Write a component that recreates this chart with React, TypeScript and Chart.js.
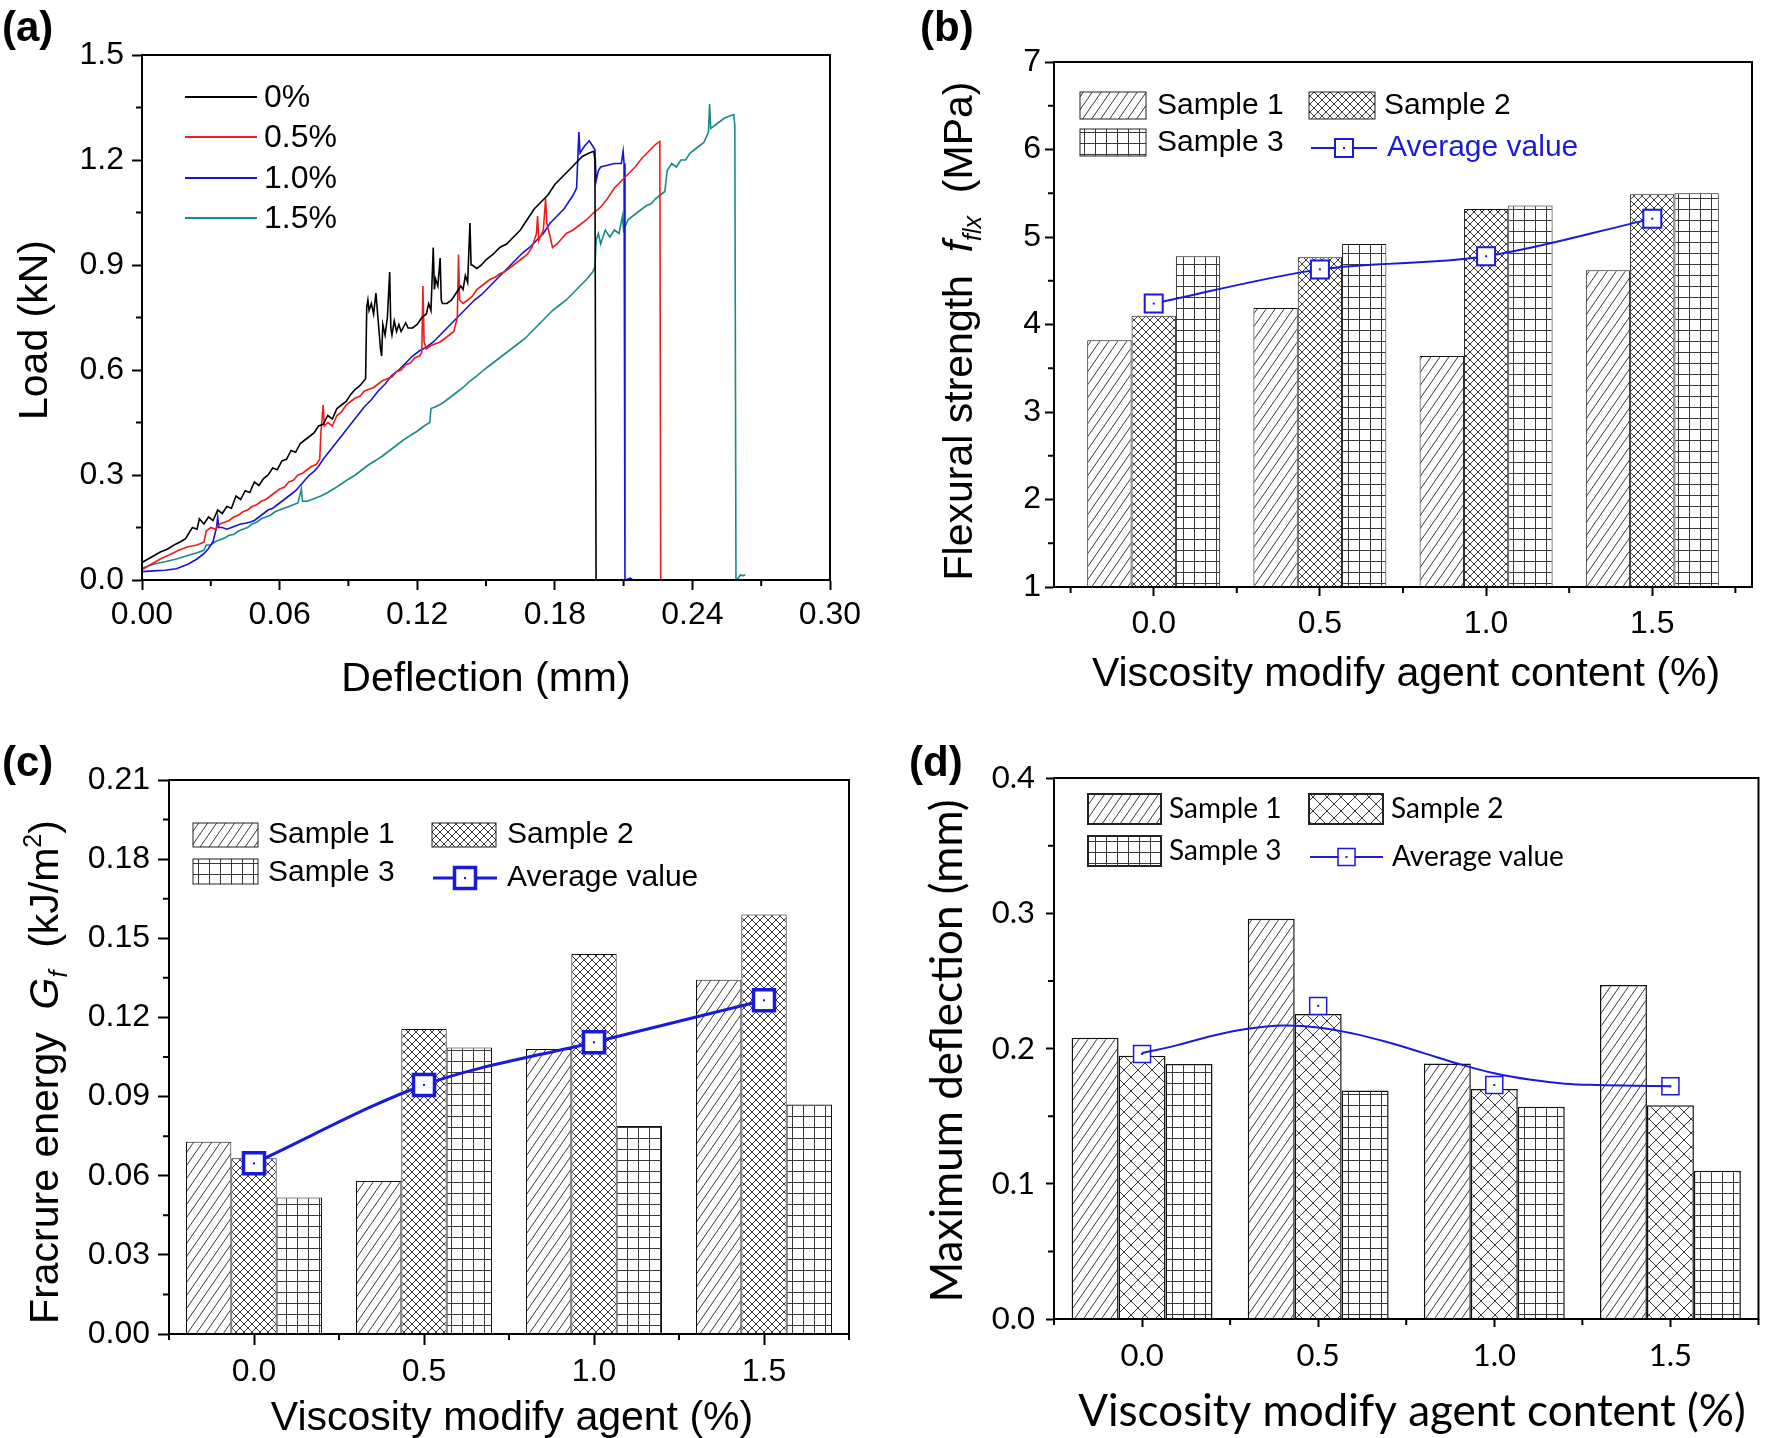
import React, { useEffect, useRef } from 'react';
import { Chart, registerables } from 'chart.js';
Chart.register(...registerables);

type Pt = [number, number];

const SANS = '"Liberation Sans", Arial, sans-serif';
const LATO = 'Lato, "Liberation Sans", sans-serif';
const BLUE = '#1a1ad8';

// ---------------- Panel (a): load-deflection curves ----------------
const aLegendLabels = ['0%', '0.5%', '1.0%', '1.5%'];
const aColors = ['#000000', '#f01c1c', '#1414d8', '#1a8a86'];
const aXTicks = [0, 0.06, 0.12, 0.18, 0.24, 0.3];
const aYTicks = [0, 0.3, 0.6, 0.9, 1.2, 1.5];
const aXMinor = [0.03, 0.09, 0.15, 0.21, 0.27];
const aYMinor = [0.15, 0.45, 0.75, 1.05, 1.35];

const aLoad0: Pt[] = [[0,0.05],[0.004,0.065],[0.008,0.08],[0.011,0.088],[0.014,0.1],[0.017,0.11],[0.019,0.118],[0.021,0.14],[0.022,0.15],[0.024,0.145],[0.025,0.175],[0.027,0.16],[0.029,0.18],[0.031,0.17],[0.033,0.2],[0.035,0.19],[0.037,0.21],[0.039,0.205],[0.041,0.24],[0.043,0.23],[0.045,0.255],[0.047,0.25],[0.049,0.28],[0.051,0.27],[0.053,0.29],[0.055,0.3],[0.057,0.32],[0.059,0.315],[0.061,0.34],[0.063,0.345],[0.065,0.37],[0.067,0.365],[0.069,0.39],[0.071,0.4],[0.073,0.41],[0.075,0.42],[0.077,0.44],[0.079,0.445],[0.081,0.47],[0.083,0.46],[0.085,0.49],[0.087,0.5],[0.089,0.51],[0.091,0.53],[0.093,0.545],[0.095,0.555],[0.0975,0.575],[0.098,0.78],[0.0985,0.8],[0.099,0.77],[0.1,0.79],[0.101,0.76],[0.102,0.82],[0.103,0.74],[0.104,0.66],[0.1045,0.64],[0.105,0.73],[0.106,0.7],[0.107,0.75],[0.108,0.88],[0.1085,0.72],[0.109,0.7],[0.11,0.74],[0.111,0.71],[0.112,0.73],[0.113,0.71],[0.115,0.735],[0.116,0.72],[0.118,0.72],[0.12,0.73],[0.122,0.75],[0.124,0.76],[0.125,0.79],[0.126,0.77],[0.127,0.95],[0.1275,0.83],[0.128,0.86],[0.129,0.84],[0.13,0.92],[0.1305,0.8],[0.131,0.79],[0.133,0.79],[0.135,0.8],[0.137,0.82],[0.139,0.84],[0.14,0.83],[0.141,0.87],[0.142,0.85],[0.143,1.02],[0.1435,0.9],[0.144,0.9],[0.146,0.89],[0.148,0.9],[0.15,0.915],[0.153,0.93],[0.156,0.95],[0.159,0.96],[0.162,0.98],[0.165,1.0],[0.168,1.03],[0.171,1.06],[0.174,1.08],[0.177,1.1],[0.18,1.13],[0.183,1.15],[0.186,1.17],[0.189,1.19],[0.192,1.21],[0.195,1.22],[0.197,1.225],[0.1975,1.2],[0.198,0],[0.2,0]];

const aLoad05: Pt[] = [[0,0.03],[0.004,0.045],[0.008,0.06],[0.012,0.072],[0.016,0.085],[0.02,0.095],[0.024,0.1],[0.027,0.108],[0.028,0.14],[0.03,0.15],[0.032,0.145],[0.034,0.16],[0.036,0.165],[0.038,0.17],[0.04,0.18],[0.042,0.185],[0.044,0.195],[0.046,0.2],[0.048,0.21],[0.05,0.215],[0.052,0.225],[0.054,0.23],[0.056,0.24],[0.058,0.25],[0.06,0.26],[0.062,0.265],[0.064,0.28],[0.066,0.285],[0.068,0.3],[0.07,0.305],[0.072,0.315],[0.074,0.325],[0.076,0.33],[0.0775,0.345],[0.078,0.42],[0.079,0.5],[0.0795,0.44],[0.081,0.45],[0.083,0.44],[0.085,0.47],[0.087,0.48],[0.089,0.5],[0.091,0.51],[0.093,0.52],[0.095,0.525],[0.097,0.54],[0.099,0.545],[0.101,0.55],[0.103,0.56],[0.105,0.57],[0.107,0.575],[0.109,0.58],[0.111,0.595],[0.113,0.6],[0.115,0.615],[0.117,0.62],[0.119,0.635],[0.121,0.64],[0.122,0.65],[0.1225,0.84],[0.123,0.68],[0.124,0.66],[0.126,0.67],[0.128,0.675],[0.13,0.68],[0.132,0.69],[0.134,0.7],[0.136,0.71],[0.1375,0.75],[0.138,0.93],[0.1385,0.8],[0.14,0.79],[0.142,0.8],[0.144,0.81],[0.146,0.83],[0.148,0.84],[0.15,0.85],[0.152,0.86],[0.154,0.865],[0.156,0.875],[0.158,0.88],[0.16,0.89],[0.162,0.9],[0.164,0.91],[0.166,0.92],[0.168,0.93],[0.17,0.95],[0.172,0.99],[0.1725,1.04],[0.173,0.97],[0.175,1.0],[0.176,1.09],[0.1765,1.02],[0.178,0.98],[0.179,0.95],[0.181,0.96],[0.183,0.975],[0.185,0.99],[0.188,1.0],[0.191,1.015],[0.194,1.03],[0.197,1.05],[0.2,1.065],[0.203,1.09],[0.206,1.12],[0.209,1.14],[0.212,1.16],[0.215,1.18],[0.218,1.205],[0.221,1.225],[0.224,1.245],[0.2258,1.253],[0.2262,0],[0.23,0]];

const aLoad10: Pt[] = [[0,0.024],[0.005,0.026],[0.01,0.028],[0.015,0.032],[0.02,0.045],[0.024,0.06],[0.027,0.075],[0.029,0.09],[0.031,0.11],[0.0325,0.15],[0.033,0.18],[0.0335,0.15],[0.035,0.15],[0.037,0.145],[0.039,0.15],[0.041,0.155],[0.043,0.16],[0.045,0.162],[0.047,0.165],[0.049,0.17],[0.051,0.18],[0.053,0.19],[0.055,0.2],[0.057,0.205],[0.059,0.215],[0.061,0.225],[0.063,0.235],[0.065,0.245],[0.067,0.255],[0.069,0.27],[0.071,0.285],[0.073,0.3],[0.075,0.31],[0.077,0.325],[0.079,0.345],[0.082,0.37],[0.085,0.395],[0.088,0.42],[0.091,0.445],[0.094,0.47],[0.097,0.495],[0.1,0.515],[0.103,0.54],[0.106,0.56],[0.109,0.585],[0.112,0.6],[0.115,0.62],[0.118,0.64],[0.121,0.655],[0.124,0.665],[0.127,0.68],[0.13,0.7],[0.133,0.72],[0.136,0.74],[0.139,0.76],[0.142,0.78],[0.145,0.8],[0.148,0.815],[0.151,0.835],[0.154,0.855],[0.157,0.875],[0.16,0.895],[0.163,0.915],[0.166,0.935],[0.169,0.95],[0.172,0.97],[0.175,0.99],[0.178,1.02],[0.181,1.04],[0.184,1.06],[0.186,1.08],[0.188,1.1],[0.1895,1.12],[0.19,1.2],[0.1905,1.28],[0.191,1.22],[0.193,1.24],[0.195,1.255],[0.196,1.245],[0.1975,1.23],[0.198,1.14],[0.199,1.17],[0.2,1.18],[0.203,1.185],[0.206,1.19],[0.209,1.19],[0.2098,1.225],[0.2102,1.19],[0.2106,0],[0.213,0.005],[0.214,0]];

const aLoad15: Pt[] = [[0,0.034],[0.005,0.045],[0.01,0.052],[0.015,0.06],[0.02,0.07],[0.024,0.078],[0.027,0.085],[0.028,0.1],[0.03,0.1],[0.032,0.11],[0.034,0.115],[0.036,0.12],[0.038,0.128],[0.04,0.13],[0.042,0.14],[0.044,0.145],[0.046,0.15],[0.048,0.16],[0.05,0.165],[0.052,0.175],[0.054,0.18],[0.056,0.185],[0.058,0.195],[0.06,0.2],[0.062,0.205],[0.064,0.21],[0.066,0.215],[0.068,0.22],[0.0695,0.26],[0.07,0.225],[0.072,0.225],[0.075,0.232],[0.078,0.24],[0.081,0.25],[0.084,0.262],[0.087,0.275],[0.09,0.288],[0.093,0.3],[0.096,0.315],[0.099,0.33],[0.102,0.342],[0.105,0.355],[0.108,0.37],[0.111,0.385],[0.114,0.4],[0.117,0.413],[0.12,0.425],[0.123,0.44],[0.1255,0.45],[0.126,0.49],[0.128,0.495],[0.131,0.505],[0.134,0.52],[0.137,0.535],[0.14,0.55],[0.143,0.568],[0.146,0.583],[0.149,0.6],[0.152,0.615],[0.155,0.63],[0.158,0.645],[0.161,0.66],[0.164,0.675],[0.167,0.69],[0.17,0.71],[0.173,0.73],[0.176,0.75],[0.179,0.77],[0.182,0.785],[0.185,0.8],[0.188,0.82],[0.191,0.84],[0.194,0.86],[0.1965,0.88],[0.1975,0.895],[0.198,0.97],[0.199,0.99],[0.2,0.96],[0.202,1.0],[0.204,0.98],[0.206,1.0],[0.208,0.99],[0.2095,1.04],[0.21,1.0],[0.212,1.03],[0.214,1.04],[0.216,1.05],[0.218,1.06],[0.22,1.07],[0.222,1.075],[0.224,1.09],[0.226,1.1],[0.228,1.11],[0.229,1.17],[0.231,1.19],[0.233,1.18],[0.235,1.2],[0.237,1.2],[0.239,1.22],[0.241,1.23],[0.243,1.24],[0.245,1.25],[0.247,1.28],[0.2475,1.36],[0.248,1.29],[0.25,1.3],[0.252,1.31],[0.254,1.32],[0.256,1.325],[0.258,1.33],[0.2585,1.3],[0.259,0],[0.26,0.005],[0.261,0.015],[0.262,0.012],[0.263,0.015]];

const aSeries = [aLoad0, aLoad05, aLoad10, aLoad15];

// ---------------- Bar panels (b), (c), (d) ----------------
const vmaContent = [0, 0.5, 1.0, 1.5];
const barXTicks = [0, 0.5, 1.0, 1.5];
const sampleLabels = ['Sample 1', 'Sample 2', 'Sample 3'];
const avgLabel = 'Average value';

// (b) flexural strength (MPa)
const bSample1 = [3.82, 4.19, 3.64, 4.62];
const bSample2 = [4.10, 4.77, 5.32, 5.49];
const bSample3 = [4.78, 4.92, 5.36, 5.50];
const bAverage = [4.24, 4.63, 4.78, 5.21];
const bYTicks = [1, 2, 3, 4, 5, 6, 7];
const bYMinor = [1.5, 2.5, 3.5, 4.5, 5.5, 6.5];
const bXMinor = [-0.25, 0.25, 0.75, 1.25, 1.75];

// (c) fracture energy (kJ/m2)
const cSample1 = [0.0729, 0.058, 0.108, 0.1343];
const cSample2 = [0.0666, 0.1156, 0.144, 0.159];
const cSample3 = [0.0517, 0.1086, 0.0788, 0.087];
const cAverage = [0.0647, 0.0944, 0.1106, 0.1265];
const cYTicks = [0, 0.03, 0.06, 0.09, 0.12, 0.15, 0.18, 0.21];
const cYMinor = [0.015, 0.045, 0.075, 0.105, 0.135, 0.165, 0.195];
const cXMinor = [-0.25, 0.25, 0.75, 1.25, 1.75];

// (d) maximum deflection (mm)
const dSample1 = [0.208, 0.296, 0.189, 0.247];
const dSample2 = [0.1947, 0.2256, 0.170, 0.158];
const dSample3 = [0.1886, 0.169, 0.157, 0.1096];
const dAverage = [0.196, 0.2315, 0.173, 0.172];
const dAvgCurveX = [0, 0.1, 0.2, 0.3, 0.4, 0.5, 0.6, 0.7, 0.8, 0.9, 1.0, 1.1, 1.2, 1.3, 1.4, 1.5];
const dAvgCurveY = [0.1966, 0.2025, 0.2095, 0.2146, 0.217, 0.2156, 0.211, 0.2044, 0.1966, 0.1885, 0.1817, 0.177, 0.174, 0.173, 0.1725, 0.172];
const dYTicks = [0, 0.1, 0.2, 0.3, 0.4];
const dYMinor = [0.05, 0.15, 0.25, 0.35];
const dXMinor = [-0.25, 0.25, 0.75, 1.25, 1.75];

// ---------------- helpers ----------------
function makePattern(kind: string, size: number): any {
  const c = document.createElement('canvas');
  const w = size;
  const h = kind === 'diag' ? Math.round(size * 1.4) : size;
  c.width = w; c.height = h;
  const g = c.getContext('2d')!;
  g.fillStyle = '#ffffff';
  g.fillRect(0, 0, w, h);
  g.strokeStyle = '#383838';
  g.lineWidth = 1;
  g.beginPath();
  if (kind === 'diag') {
    for (const o of [-w, 0, w]) { g.moveTo(-w + o, 2 * h); g.lineTo(2 * w + o, -h); }
  } else if (kind === 'cross') {
    for (const o of [-w, 0, w]) {
      g.moveTo(-w + o, -h); g.lineTo(2 * w + o, 2 * h);
      g.moveTo(2 * w + o, -h); g.lineTo(-w + o, 2 * h);
    }
  } else {
    g.moveTo(0.5, 0); g.lineTo(0.5, h);
    g.moveTo(0, 0.5); g.lineTo(w, 0.5);
  }
  g.stroke();
  return g.createPattern(c, 'repeat');
}

type Seg = { t: string; font: string; dy?: number; color?: string };

function drawRich(ctx: CanvasRenderingContext2D, segs: Seg[], cx: number, cy: number, rotate: boolean, baseSize: number) {
  ctx.save();
  ctx.translate(cx, cy);
  if (rotate) ctx.rotate(-Math.PI / 2);
  let total = 0;
  for (const s of segs) { ctx.font = s.font; total += ctx.measureText(s.t).width; }
  let x = -total / 2;
  ctx.textAlign = 'left';
  ctx.textBaseline = 'alphabetic';
  const base = baseSize * 0.36;
  for (const s of segs) {
    ctx.font = s.font;
    ctx.fillStyle = s.color || '#000';
    ctx.fillText(s.t, x, base + (s.dy || 0));
    x += ctx.measureText(s.t).width;
  }
  ctx.restore();
}

function drawMarker(ctx: CanvasRenderingContext2D, x: number, y: number, side: number, bw: number) {
  ctx.save();
  ctx.fillStyle = '#fff';
  ctx.fillRect(x - side / 2, y - side / 2, side, side);
  ctx.strokeStyle = BLUE;
  ctx.lineWidth = bw;
  ctx.strokeRect(x - side / 2, y - side / 2, side, side);
  ctx.fillStyle = BLUE;
  ctx.fillRect(x - 1, y - 1, 2, 2);
  ctx.restore();
}

interface Deco {
  xMinor: number[]; yMinor: number[]; minorLen: number;
  label: string; labelX: number; labelY: number;
  yTitle: Seg[]; yTitleX: number; yTitleY: number; yTitleSize: number;
  xTitle: Seg[]; xTitleX: number; xTitleY: number; xTitleSize: number;
  legend: (ctx: CanvasRenderingContext2D) => void;
  dotsDataset?: number;
}

function decoPlugin(d: Deco) {
  return {
    id: 'deco',
    afterDatasetsDraw(chart: any) {
      if (d.dotsDataset === undefined) return;
      const ctx = chart.ctx;
      const meta = chart.getDatasetMeta(d.dotsDataset);
      ctx.save();
      ctx.fillStyle = BLUE;
      meta.data.forEach((p: any) => ctx.fillRect(p.x - 1, p.y - 1, 2, 2));
      ctx.restore();
    },
    afterDraw(chart: any) {
      const ctx: CanvasRenderingContext2D = chart.ctx;
      const ca = chart.chartArea;
      const xs = chart.scales.x;
      const ys = chart.scales.y;
      ctx.save();
      ctx.strokeStyle = '#000';
      ctx.lineWidth = 2;
      ctx.strokeRect(ca.left, ca.top, ca.right - ca.left, ca.bottom - ca.top);
      ctx.beginPath();
      for (const v of d.xMinor) {
        const px = xs.getPixelForValue(v);
        ctx.moveTo(px, ca.bottom); ctx.lineTo(px, ca.bottom + d.minorLen);
      }
      for (const v of d.yMinor) {
        const py = ys.getPixelForValue(v);
        ctx.moveTo(ca.left, py); ctx.lineTo(ca.left - d.minorLen, py);
      }
      ctx.stroke();
      ctx.fillStyle = '#000';
      ctx.font = `bold 42px ${SANS}`;
      ctx.textAlign = 'left';
      ctx.textBaseline = 'top';
      ctx.fillText(d.label, d.labelX, d.labelY);
      drawRich(ctx, d.yTitle, d.yTitleX, d.yTitleY, true, d.yTitleSize);
      drawRich(ctx, d.xTitle, d.xTitleX, d.xTitleY, false, d.xTitleSize);
      d.legend(ctx);
      ctx.restore();
    },
  };
}

interface AxisSpec {
  min: number; max: number; ticks: number[]; dec: number; fit: number;
  tickLen: number; pad: number; family: string; size: number; horizontal: boolean;
}

function axis(a: AxisSpec) {
  return {
    type: 'linear',
    min: a.min,
    max: a.max,
    offset: false,
    afterBuildTicks: (s: any) => { s.ticks = a.ticks.map((v) => ({ value: v })); },
    afterFit: (s: any) => { if (a.horizontal) s.height = a.fit; else s.width = a.fit; },
    grid: { display: true, drawOnChartArea: false, drawTicks: true, tickLength: a.tickLen, tickWidth: 2, tickColor: '#000', offset: false },
    border: { display: true, color: '#000', width: 2 },
    ticks: {
      font: { family: a.family, size: a.size },
      color: '#000',
      padding: a.pad,
      maxRotation: 0,
      minRotation: 0,
      autoSkip: false,
      callback: (v: any) => Number(v).toFixed(a.dec),
    },
  };
}

function baseOptions(padTop: number, padRight: number, x: any, y: any) {
  return {
    responsive: false,
    animation: false,
    events: [],
    layout: { padding: { left: 0, top: padTop, right: padRight, bottom: 0 } },
    plugins: { legend: { display: false }, tooltip: { enabled: false } },
    scales: { x, y },
  };
}

// ---------------- panel (a) config ----------------
function configA() {
  const legend = (ctx: CanvasRenderingContext2D) => {
    const ys = [97, 137, 178, 218];
    ctx.font = `32px ${SANS}`;
    ctx.textBaseline = 'middle';
    ctx.textAlign = 'left';
    aLegendLabels.forEach((lab, i) => {
      ctx.strokeStyle = aColors[i];
      ctx.lineWidth = 2;
      ctx.beginPath();
      ctx.moveTo(185, ys[i]); ctx.lineTo(257, ys[i]);
      ctx.stroke();
      ctx.fillStyle = '#000';
      ctx.fillText(lab, 264, ys[i] + 1);
    });
  };
  const deco = decoPlugin({
    xMinor: aXMinor, yMinor: aYMinor, minorLen: 6,
    label: '(a)', labelX: 2, labelY: 8,
    yTitle: [{ t: 'Load (kN)', font: `41px ${SANS}` }], yTitleX: 32, yTitleY: 330, yTitleSize: 41,
    xTitle: [{ t: 'Deflection (mm)', font: `41px ${SANS}` }], xTitleX: 486, xTitleY: 676, xTitleSize: 41,
    legend,
  });
  return {
    type: 'line',
    data: {
      datasets: aSeries.map((s, i) => ({
        label: aLegendLabels[i],
        data: s.map(([x, y]) => ({ x, y })),
        borderColor: aColors[i],
        borderWidth: 1.6,
        pointRadius: 0,
        tension: 0,
        fill: false,
      })),
    },
    options: baseOptions(55, 56,
      axis({ min: 0, max: 0.3, ticks: aXTicks, dec: 2, fit: 140, tickLen: 10, pad: 6, family: SANS, size: 32, horizontal: true }),
      axis({ min: 0, max: 1.5, ticks: aYTicks, dec: 1, fit: 142, tickLen: 10, pad: 8, family: SANS, size: 32, horizontal: false })),
    plugins: [deco],
  };
}

// ---------------- bar panel config ----------------
interface BarSpec {
  s: number[][]; avg: number[]; curveX?: number[]; curveY?: number[];
  xMin: number; xMax: number; yMin: number; yMax: number; yTicks: number[]; yDec: number;
  xMinor: number[]; yMinor: number[];
  padTop: number; padRight: number; xFit: number; yFit: number;
  tickLen: number; xPad: number; yPad: number; family: string; tickSize: number;
  diag: number; cross: number; grid: number; barBW: number;
  lineW: number; markerSide: number; markerBW: number;
  label: string; labelX: number; labelY: number;
  yTitle: Seg[]; yTitleX: number; yTitleY: number; yTitleSize: number;
  xTitle: string; xTitleFont: string; xTitleX: number; xTitleY: number; xTitleSize: number;
  lg: { boxes: number[][]; texts: number[][]; avgLine: number[]; font: string; avgColor: string; boxBW: number };
}

function configBar(p: BarSpec) {
  const pats = [makePattern('diag', p.diag), makePattern('cross', p.cross), makePattern('grid', p.grid)];
  const xy = (ys: number[]) => vmaContent.map((x, i) => ({ x, y: ys[i] }));
  const datasets: any[] = [];
  const markerR = p.markerSide / (2 * Math.SQRT1_2);
  if (p.curveX && p.curveY) {
    datasets.push({
      type: 'line', label: 'avgCurve',
      data: p.curveX.map((x, i) => ({ x, y: p.curveY![i] })),
      borderColor: BLUE, borderWidth: p.lineW, pointRadius: 0, tension: 0.4, order: 0,
    });
  }
  datasets.push({
    type: 'line', label: avgLabel, data: xy(p.avg),
    showLine: !(p.curveX),
    borderColor: BLUE, borderWidth: p.lineW,
    cubicInterpolationMode: 'monotone',
    pointStyle: 'rect', pointRadius: markerR, pointBackgroundColor: '#fff',
    pointBorderColor: BLUE, pointBorderWidth: p.markerBW, order: 0,
  });
  const dotsIdx = datasets.length - 1;
  p.s.forEach((vals, i) => {
    datasets.push({
      type: 'bar', label: sampleLabels[i], data: xy(vals),
      backgroundColor: pats[i], borderColor: '#111', borderWidth: p.barBW,
      categoryPercentage: 0.8, barPercentage: 1.0, order: 1,
    });
  });

  const legend = (ctx: CanvasRenderingContext2D) => {
    ctx.font = p.lg.font;
    ctx.textBaseline = 'middle';
    ctx.textAlign = 'left';
    p.lg.boxes.forEach((b, i) => {
      ctx.fillStyle = pats[i];
      ctx.fillRect(b[0], b[1], b[2], b[3]);
      ctx.strokeStyle = '#222';
      ctx.lineWidth = p.lg.boxBW;
      ctx.strokeRect(b[0], b[1], b[2], b[3]);
      ctx.fillStyle = '#000';
      ctx.fillText(sampleLabels[i], p.lg.texts[i][0], p.lg.texts[i][1]);
    });
    const [x1, x2, ly] = p.lg.avgLine;
    ctx.strokeStyle = BLUE;
    ctx.lineWidth = p.lineW;
    ctx.beginPath(); ctx.moveTo(x1, ly); ctx.lineTo(x2, ly); ctx.stroke();
    drawMarker(ctx, (x1 + x2) / 2, ly, p.markerSide, p.markerBW);
    ctx.fillStyle = p.lg.avgColor;
    ctx.font = p.lg.font;
    ctx.fillText(avgLabel, p.lg.texts[3][0], p.lg.texts[3][1]);
  };

  const deco = decoPlugin({
    xMinor: p.xMinor, yMinor: p.yMinor, minorLen: 6,
    label: p.label, labelX: p.labelX, labelY: p.labelY,
    yTitle: p.yTitle, yTitleX: p.yTitleX, yTitleY: p.yTitleY, yTitleSize: p.yTitleSize,
    xTitle: [{ t: p.xTitle, font: p.xTitleFont }], xTitleX: p.xTitleX, xTitleY: p.xTitleY, xTitleSize: p.xTitleSize,
    legend, dotsDataset: dotsIdx,
  });

  return {
    type: 'bar',
    data: { datasets },
    options: baseOptions(p.padTop, p.padRight,
      axis({ min: p.xMin, max: p.xMax, ticks: barXTicks, dec: 1, fit: p.xFit, tickLen: p.tickLen, pad: p.xPad, family: p.family, size: p.tickSize, horizontal: true }),
      axis({ min: p.yMin, max: p.yMax, ticks: p.yTicks, dec: p.yDec, fit: p.yFit, tickLen: p.tickLen, pad: p.yPad, family: p.family, size: p.tickSize, horizontal: false })),
    plugins: [deco],
  };
}

function configB() {
  return configBar({
    s: [bSample1, bSample2, bSample3], avg: bAverage,
    xMin: -0.3, xMax: 1.8, yMin: 1, yMax: 7, yTicks: bYTicks, yDec: 0,
    xMinor: bXMinor, yMinor: bYMinor,
    padTop: 62, padRight: 20, xFit: 133, yFit: 168,
    tickLen: 9, xPad: 9, yPad: 4, family: SANS, tickSize: 32,
    diag: 9, cross: 8, grid: 11, barBW: 1,
    lineW: 2, markerSide: 18, markerBW: 2,
    label: '(b)', labelX: 34, labelY: 8,
    yTitle: [
      { t: 'Flexural strength  ', font: `41px ${SANS}` },
      { t: 'f', font: `italic 41px ${SANS}` },
      { t: 'flx', font: `italic 25px ${SANS}`, dy: 9 },
      { t: '  (MPa)', font: `41px ${SANS}` },
    ],
    yTitleX: 71, yTitleY: 331, yTitleSize: 41,
    xTitle: 'Viscosity modify agent content (%)', xTitleFont: `41px ${SANS}`, xTitleX: 520, xTitleY: 671, xTitleSize: 41,
    lg: {
      boxes: [[194, 92, 66, 27], [423, 92, 66, 27], [194, 129, 66, 27]],
      texts: [[271, 106], [498, 106], [271, 143], [501, 148]],
      avgLine: [425, 491, 148], font: `30px ${SANS}`, avgColor: BLUE, boxBW: 1,
    },
  });
}

function configC() {
  return configBar({
    s: [cSample1, cSample2, cSample3], avg: cAverage,
    xMin: -0.25, xMax: 1.75, yMin: 0, yMax: 0.21, yTicks: cYTicks, yDec: 2,
    xMinor: cXMinor, yMinor: cYMinor,
    padTop: 60, padRight: 37, xFit: 104, yFit: 169,
    tickLen: 11, xPad: 8, yPad: 8, family: SANS, tickSize: 32,
    diag: 9, cross: 8, grid: 11, barBW: 1,
    lineW: 3, markerSide: 21, markerBW: 3.5,
    label: '(c)', labelX: 2, labelY: 23,
    yTitle: [
      { t: 'Fracrure energy  ', font: `41px ${SANS}` },
      { t: 'G', font: `italic 41px ${SANS}` },
      { t: 'f', font: `italic 25px ${SANS}`, dy: 9 },
      { t: '  (kJ/m', font: `41px ${SANS}` },
      { t: '2', font: `25px ${SANS}`, dy: -17 },
      { t: ')', font: `41px ${SANS}` },
    ],
    yTitleX: 43, yTitleY: 352, yTitleSize: 41,
    xTitle: 'Viscosity modify agent (%)', xTitleFont: `41px ${SANS}`, xTitleX: 512, xTitleY: 695, xTitleSize: 41,
    lg: {
      boxes: [[193, 103, 65, 24], [432, 103, 64, 24], [193, 139, 65, 25]],
      texts: [[268, 115], [507, 115], [268, 153], [507, 158]],
      avgLine: [433, 497, 158], font: `30px ${SANS}`, avgColor: '#000', boxBW: 1,
    },
  });
}

function configD() {
  return configBar({
    s: [dSample1, dSample2, dSample3], avg: dAverage, curveX: dAvgCurveX, curveY: dAvgCurveY,
    xMin: -0.25, xMax: 1.75, yMin: 0, yMax: 0.4, yTicks: dYTicks, yDec: 1,
    xMinor: dXMinor, yMinor: dYMinor,
    padTop: 58, padRight: 6, xFit: 119, yFit: 168,
    tickLen: 8, xPad: 10, yPad: 11, family: LATO, tickSize: 31,
    diag: 9, cross: 14, grid: 11, barBW: 1.5,
    lineW: 2, markerSide: 17, markerBW: 1.5,
    label: '(d)', labelX: 23, labelY: 23,
    yTitle: [{ t: 'Maximum deflection (mm)', font: `44px ${LATO}` }],
    yTitleX: 60, yTitleY: 331, yTitleSize: 44,
    xTitle: 'Viscosity modify agent content (%)', xTitleFont: `44px ${LATO}`, xTitleX: 526, xTitleY: 690, xTitleSize: 44,
    lg: {
      boxes: [[202, 74, 73, 30], [423, 74, 74, 30], [202, 116, 73, 30]],
      texts: [[283, 89], [505, 89], [283, 131], [506, 137]],
      avgLine: [424, 497, 137], font: `28px ${LATO}`, avgColor: '#000', boxBW: 2,
    },
  });
}

function ChartCanvas(props: { left: number; top: number; width: number; height: number; build: () => any }) {
  const ref = useRef<HTMLCanvasElement>(null);
  useEffect(() => {
    const chart = new Chart(ref.current as HTMLCanvasElement, props.build());
    return () => chart.destroy();
  }, []);
  return (
    <canvas
      ref={ref}
      width={props.width}
      height={props.height}
      style={{ position: 'absolute', left: props.left, top: props.top, width: props.width, height: props.height }}
    />
  );
}

export default function App() {
  return (
    <div style={{ position: 'absolute', left: 0, top: 0, width: 1772, height: 1438, background: '#fff' }}>
      <ChartCanvas left={0} top={0} width={886} height={720} build={configA} />
      <ChartCanvas left={886} top={0} width={886} height={720} build={configB} />
      <ChartCanvas left={0} top={720} width={886} height={718} build={configC} />
      <ChartCanvas left={886} top={720} width={886} height={718} build={configD} />
    </div>
  );
}
